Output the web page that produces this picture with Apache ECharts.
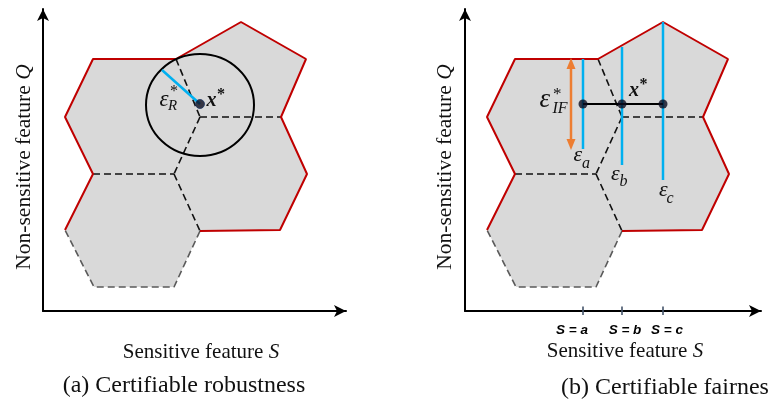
<!DOCTYPE html>
<html><head><meta charset="utf-8">
<script src="https://cdn.jsdelivr.net/npm/echarts@6/dist/echarts.min.js"></script>
<style>html,body{margin:0;padding:0;background:#fff}#c{width:769px;height:408px}</style>
</head><body><div id="c"></div>
<script>
// ---- data (feature-space coordinates) ----
const polyUL = [[50,252],[133,252],[157,194],[131,137],[50,137],[22,194]];
const polyUR = [[133,252],[198,289],[263,252],[238,194],[157,194]];
const polyLR = [[157,194],[238,194],[264,137],[237,81],[157,80],[131,137]];
const polyLL = [[50,137],[131,137],[157,80],[131,24],[51,24],[22,81]];
const redBoundary = [[157,80],[237,81],[264,137],[238,194],[263,252],[198,289],[133,252],[50,252],[22,194],[50,137],[22,81]];
const dashedEdges = [
  [[133,252],[157,194]],
  [[157,194],[238,194]],
  [[157,194],[131,137]],
  [[50,137],[131,137]],
  [[131,137],[157,80]]
];
const grayDashed = [[157,80],[131,24],[51,24],[22,81]];
const xStar = [157,207];
const robustCenter = [157,206];
const robustRadius = [54,51];
const robustRay = [[119,241],[157,207]];
const sValues = [118,157,198];
const sLabels = ['S = a','S = b','S = c'];
const epsTop = [252,264,289];
const epsBottom = [162,146,131];
const pointY = 207;
const ifArrow = [[106,253],[106,161]];

const polygons = [polyUL, polyUR, polyLR, polyLL];

const chart = echarts.init(document.getElementById('c'));

function axis(max){
  return {type:'value', min:0, max:max,
    axisLine:{show:true,onZero:false,symbol:['none','arrow'],symbolSize:[9,12],lineStyle:{color:'#000',width:2}},
    axisTick:{show:false}, axisLabel:{show:false}, splitLine:{show:false}};
}
function polySeries(g){
  return {type:'custom', xAxisIndex:g, yAxisIndex:g, z:1, silent:true,
    data: polygons.map((p,i)=>[i,0]),
    renderItem:(params, api)=>({type:'polygon',
      shape:{points: polygons[api.value(0)].map(pt=>api.coord(pt))},
      style:{fill:'#d9d9d9'}})};
}
function lineSeries(g, data, color, width, dash, z){
  return {type:'line', xAxisIndex:g, yAxisIndex:g, data:data, symbol:'none', silent:true, z:z, clip:false,
    lineStyle:{color:color, width:width, type: dash || 'solid', cap:'butt'}};
}
function panelEdges(g){
  const s = [polySeries(g)];
  dashedEdges.forEach(e=>s.push(lineSeries(g, e, '#111', 1.6, [7,4], 2)));
  s.push(lineSeries(g, grayDashed, '#5a5a5a', 1.6, [7,4], 2));
  s.push(lineSeries(g, redBoundary, '#c00000', 2, null, 3));
  return s;
}

const series = [];
series.push(...panelEdges(0));
series.push(...panelEdges(1));
// left panel: robustness circle
series.push({type:'custom', xAxisIndex:0, yAxisIndex:0, z:5, silent:true,
  data:[robustCenter],
  renderItem:(params, api)=>{
    const c = api.coord([api.value(0), api.value(1)]);
    const s = api.size(robustRadius);
    return {type:'ellipse', shape:{cx:c[0], cy:c[1], rx:s[0], ry:s[1]}, style:{fill:null, stroke:'#000', lineWidth:2}};
  }});
series.push(lineSeries(0, robustRay, '#00b0f0', 2.5, null, 6));
series.push({type:'scatter', xAxisIndex:0, yAxisIndex:0, z:7, silent:true, data:[xStar], symbolSize:9,
  itemStyle:{color:'#0b0b1e', borderColor:'#1f3864', borderWidth:1}});
// right panel: fairness
sValues.forEach((v,i)=>series.push(lineSeries(1, [[v,epsTop[i]],[v,epsBottom[i]]], '#00b0f0', 2.5, null, 6)));
series.push(lineSeries(1, sValues.map(v=>[v,pointY]), '#000', 2, null, 7));
series.push({type:'scatter', xAxisIndex:1, yAxisIndex:1, z:8, silent:true, data:sValues.map(v=>[v,pointY]), symbolSize:9,
  itemStyle:{color:'#0b0b1e'}});
series.push({type:'custom', xAxisIndex:1, yAxisIndex:1, z:6, silent:true, data:[ifArrow[0]],
  renderItem:(params, api)=>{
    const a = api.coord(ifArrow[0]), b = api.coord(ifArrow[1]);
    const col = '#ed7d31', hw = 4.5, hh = 11;
    return {type:'group', children:[
      {type:'line', shape:{x1:a[0], y1:a[1]+hh-1, x2:b[0], y2:b[1]-hh+1}, style:{stroke:col, lineWidth:2.5}},
      {type:'polygon', shape:{points:[[a[0],a[1]],[a[0]-hw,a[1]+hh],[a[0]+hw,a[1]+hh]]}, style:{fill:col}},
      {type:'polygon', shape:{points:[[b[0],b[1]],[b[0]-hw,b[1]-hh],[b[0]+hw,b[1]-hh]]}, style:{fill:col}}
    ]};
  }});
const labelDx = [-11, 3, 4];
series.push({type:'custom', xAxisIndex:1, yAxisIndex:1, z:9, silent:true, clip:false,
  data: sValues.map((v,i)=>[v,0,i]),
  renderItem:(params, api)=>{
    const i = api.value(2);
    const p = api.coord([api.value(0), 0]);
    return {type:'group', children:[
      {type:'line', shape:{x1:p[0], y1:p[1]-4.5, x2:p[0], y2:p[1]+4}, style:{stroke:'#44546a', lineWidth:1.6}},
      {type:'text', x:p[0]+labelDx[i], y:p[1]+19, style:{text:sLabels[i], fill:'#000',
        font:'italic bold 13.5px "Liberation Sans", Arial, sans-serif', align:'center', verticalAlign:'middle'}}
    ]};
  }});

function txt(x, y, text, font, align, extra){
  return Object.assign({type:'text', x:x, y:y, z:100, silent:true,
    style:{text:text, font:font, fill:'#111', align:align||'left', verticalAlign:'middle'}}, extra||{});
}
const SERIF = '"Liberation Serif", "Times New Roman", serif';
function richLabel(x, y, a, b, size, align, rot){
  return {type:'text', x:x, y:y, z:100, silent:true, rotation: rot||0,
    style:{text:'{n|'+a+'}{q|'+b+'}', align:align||'center', verticalAlign:'middle', fill:'#111',
      rich:{n:{fontFamily:SERIF, fontSize:size, fill:'#111'}, q:{fontFamily:SERIF, fontSize:size, fontStyle:'italic', fill:'#111'}}}};
}
const graphics = [
  richLabel(24, 167, 'Non-sensitive feature ', 'Q', 21.5, 'center', Math.PI/2),
  richLabel(445, 167, 'Non-sensitive feature ', 'Q', 21.5, 'center', Math.PI/2),
  richLabel(201, 352, 'Sensitive feature ', 'S', 21, 'center'),
  richLabel(625, 351, 'Sensitive feature ', 'S', 21, 'center'),
  txt(184, 386, '(a) Certifiable robustness', '24px '+SERIF, 'center'),
  txt(561, 388, '(b) Certifiable fairness', '24px '+SERIF, 'left'),
  // left math labels
  txt(159.5, 100, 'ε', 'italic 23px '+SERIF),
  txt(168, 106, 'R', 'italic 15px '+SERIF),
  txt(170, 92, '*', '16px '+SERIF),
  txt(206.5, 101, 'x', 'italic bold 20px '+SERIF),
  txt(217, 95, '*', 'bold 16px '+SERIF),
  // right math labels
  txt(539.5, 99.5, 'ε', 'italic 27px '+SERIF),
  txt(552.5, 109, 'IF', 'italic 16px '+SERIF),
  txt(553, 95, '*', '17px '+SERIF),
  txt(629, 90.5, 'x', 'italic bold 20px '+SERIF),
  txt(639.5, 85, '*', 'bold 16px '+SERIF),
  txt(573.5, 155, 'ε', 'italic 22px '+SERIF),
  txt(582, 164, 'a', 'italic 16px '+SERIF),
  txt(611, 174, 'ε', 'italic 22px '+SERIF),
  txt(619.5, 182, 'b', 'italic 16px '+SERIF),
  txt(659, 190.5, 'ε', 'italic 22px '+SERIF),
  txt(666.5, 199, 'c', 'italic 16px '+SERIF)
];

chart.setOption({
  animation:false,
  backgroundColor:'#fff',
  grid:[{left:43, top:9, width:303, height:302}, {left:465, top:9, width:296, height:302}],
  xAxis:[Object.assign(axis(303),{gridIndex:0}), Object.assign(axis(296),{gridIndex:1})],
  yAxis:[Object.assign(axis(302),{gridIndex:0}), Object.assign(axis(302),{gridIndex:1})],
  series: series,
  graphic: graphics
});
</script></body></html>
